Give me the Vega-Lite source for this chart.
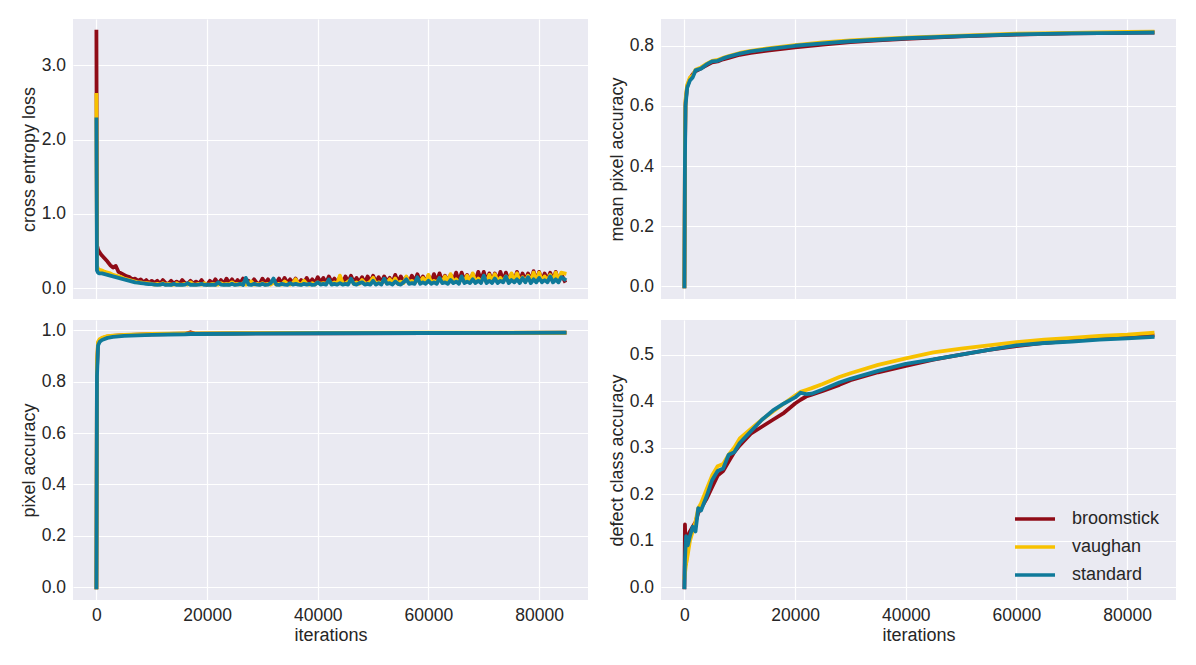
{
  "$schema": "https://vega.github.io/schema/vega-lite/v6.json",
  "background": "white",
  "padding": {"left": 20, "top": 19, "right": 5, "bottom": 5},
  "columns": 2,
  "spacing": {"row": 21, "column": 73},
  "bounds": "flush",
  "resolve": {"legend": {"color": "independent"}},
  "config": {
    "font": "Liberation Sans",
    "view": {"fill": "#EAEAF2", "stroke": null},
    "axis": {
      "grid": true, "gridColor": "white", "gridWidth": 1.2,
      "domain": false, "ticks": false, "tickSize": 0,
      "labelFontSize": 17.5, "labelColor": "#262626",
      "titleFontSize": 18, "titleColor": "#262626", "titleFontWeight": "normal"
    },
    "axisY": {"labelPadding": 7.5, "titlePadding": 3},
    "axisX": {"labelPadding": 6, "titlePadding": 3},
    "legend": {
      "orient": "bottom-right", "offset": 16, "padding": 0,
      "symbolType": "M-2,0H2", "symbolSize": 400, "symbolStrokeWidth": 3.5,
      "labelFontSize": 18, "labelColor": "#262626", "labelOffset": 25, "rowPadding": 7
    }
  },
  "datasets": {
    "loss": [
      {"i": 0, "broomstick": 3.45, "vaughan": 2.6, "standard": 2.27},
      {"i": 100, "broomstick": 0.58, "vaughan": 0.3, "standard": 0.24},
      {"i": 300, "broomstick": 0.52, "vaughan": 0.26, "standard": 0.21},
      {"i": 600, "broomstick": 0.48, "vaughan": 0.25, "standard": 0.2},
      {"i": 1000, "broomstick": 0.44, "vaughan": 0.24, "standard": 0.2},
      {"i": 1500, "broomstick": 0.4, "vaughan": 0.22, "standard": 0.19},
      {"i": 2000, "broomstick": 0.36, "vaughan": 0.21, "standard": 0.18},
      {"i": 2500, "broomstick": 0.31, "vaughan": 0.2, "standard": 0.17},
      {"i": 3000, "broomstick": 0.28, "vaughan": 0.18, "standard": 0.16},
      {"i": 3500, "broomstick": 0.3, "vaughan": 0.17, "standard": 0.15},
      {"i": 4000, "broomstick": 0.22, "vaughan": 0.16, "standard": 0.14},
      {"i": 4500, "broomstick": 0.2, "vaughan": 0.15, "standard": 0.13},
      {"i": 5000, "broomstick": 0.18, "vaughan": 0.13, "standard": 0.12},
      {"i": 5500, "broomstick": 0.16, "vaughan": 0.12, "standard": 0.11},
      {"i": 6000, "broomstick": 0.15, "vaughan": 0.11, "standard": 0.1},
      {"i": 6500, "broomstick": 0.12, "vaughan": 0.1, "standard": 0.09},
      {"i": 7000, "broomstick": 0.13, "vaughan": 0.09, "standard": 0.08},
      {"i": 7500, "broomstick": 0.1, "vaughan": 0.08, "standard": 0.075},
      {"i": 8000, "broomstick": 0.12, "vaughan": 0.08, "standard": 0.07},
      {"i": 8500, "broomstick": 0.08, "vaughan": 0.07, "standard": 0.065},
      {"i": 9000, "broomstick": 0.11, "vaughan": 0.07, "standard": 0.06},
      {"i": 9500, "broomstick": 0.07, "vaughan": 0.065, "standard": 0.055},
      {"i": 10000, "broomstick": 0.1, "vaughan": 0.06, "standard": 0.055},
      {"i": 10500, "broomstick": 0.07, "vaughan": 0.05, "standard": 0.05},
      {"i": 11000, "broomstick": 0.1, "vaughan": 0.06, "standard": 0.045},
      {"i": 11500, "broomstick": 0.06, "vaughan": 0.05, "standard": 0.05},
      {"i": 12000, "broomstick": 0.11, "vaughan": 0.07, "standard": 0.06},
      {"i": 12500, "broomstick": 0.07, "vaughan": 0.05, "standard": 0.045},
      {"i": 13000, "broomstick": 0.06, "vaughan": 0.06, "standard": 0.05},
      {"i": 13500, "broomstick": 0.1, "vaughan": 0.05, "standard": 0.045},
      {"i": 14000, "broomstick": 0.06, "vaughan": 0.05, "standard": 0.06},
      {"i": 14500, "broomstick": 0.09, "vaughan": 0.07, "standard": 0.045},
      {"i": 15000, "broomstick": 0.06, "vaughan": 0.05, "standard": 0.05},
      {"i": 15500, "broomstick": 0.11, "vaughan": 0.05, "standard": 0.045},
      {"i": 16000, "broomstick": 0.07, "vaughan": 0.06, "standard": 0.05},
      {"i": 16500, "broomstick": 0.06, "vaughan": 0.05, "standard": 0.07},
      {"i": 17000, "broomstick": 0.1, "vaughan": 0.08, "standard": 0.045},
      {"i": 17500, "broomstick": 0.06, "vaughan": 0.05, "standard": 0.05},
      {"i": 18000, "broomstick": 0.09, "vaughan": 0.05, "standard": 0.045},
      {"i": 18500, "broomstick": 0.06, "vaughan": 0.06, "standard": 0.05},
      {"i": 19000, "broomstick": 0.11, "vaughan": 0.05, "standard": 0.06},
      {"i": 19500, "broomstick": 0.06, "vaughan": 0.07, "standard": 0.045},
      {"i": 20000, "broomstick": 0.05, "vaughan": 0.05, "standard": 0.05},
      {"i": 20500, "broomstick": 0.1, "vaughan": 0.05, "standard": 0.045},
      {"i": 21000, "broomstick": 0.06, "vaughan": 0.06, "standard": 0.05},
      {"i": 21500, "broomstick": 0.12, "vaughan": 0.05, "standard": 0.045},
      {"i": 22000, "broomstick": 0.06, "vaughan": 0.05, "standard": 0.08},
      {"i": 22500, "broomstick": 0.11, "vaughan": 0.07, "standard": 0.05},
      {"i": 23000, "broomstick": 0.06, "vaughan": 0.05, "standard": 0.045},
      {"i": 23500, "broomstick": 0.13, "vaughan": 0.06, "standard": 0.05},
      {"i": 24000, "broomstick": 0.07, "vaughan": 0.05, "standard": 0.045},
      {"i": 24500, "broomstick": 0.12, "vaughan": 0.08, "standard": 0.06},
      {"i": 25000, "broomstick": 0.06, "vaughan": 0.05, "standard": 0.045},
      {"i": 25500, "broomstick": 0.11, "vaughan": 0.06, "standard": 0.05},
      {"i": 26000, "broomstick": 0.07, "vaughan": 0.05, "standard": 0.06},
      {"i": 26500, "broomstick": 0.13, "vaughan": 0.07, "standard": 0.045},
      {"i": 27000, "broomstick": 0.06, "vaughan": 0.05, "standard": 0.14},
      {"i": 27500, "broomstick": 0.1, "vaughan": 0.06, "standard": 0.05},
      {"i": 28000, "broomstick": 0.06, "vaughan": 0.09, "standard": 0.045},
      {"i": 28500, "broomstick": 0.12, "vaughan": 0.05, "standard": 0.06},
      {"i": 29000, "broomstick": 0.07, "vaughan": 0.06, "standard": 0.05},
      {"i": 29500, "broomstick": 0.06, "vaughan": 0.05, "standard": 0.045},
      {"i": 30000, "broomstick": 0.13, "vaughan": 0.07, "standard": 0.06},
      {"i": 30500, "broomstick": 0.07, "vaughan": 0.05, "standard": 0.045},
      {"i": 31000, "broomstick": 0.12, "vaughan": 0.06, "standard": 0.05},
      {"i": 31500, "broomstick": 0.06, "vaughan": 0.05, "standard": 0.07},
      {"i": 32000, "broomstick": 0.11, "vaughan": 0.08, "standard": 0.13},
      {"i": 32500, "broomstick": 0.07, "vaughan": 0.05, "standard": 0.05},
      {"i": 33000, "broomstick": 0.13, "vaughan": 0.06, "standard": 0.045},
      {"i": 33500, "broomstick": 0.06, "vaughan": 0.05, "standard": 0.06},
      {"i": 34000, "broomstick": 0.14, "vaughan": 0.09, "standard": 0.05},
      {"i": 34500, "broomstick": 0.07, "vaughan": 0.06, "standard": 0.045},
      {"i": 35000, "broomstick": 0.12, "vaughan": 0.05, "standard": 0.07},
      {"i": 35500, "broomstick": 0.07, "vaughan": 0.07, "standard": 0.05},
      {"i": 36000, "broomstick": 0.13, "vaughan": 0.12, "standard": 0.06},
      {"i": 36500, "broomstick": 0.06, "vaughan": 0.06, "standard": 0.05},
      {"i": 37000, "broomstick": 0.11, "vaughan": 0.05, "standard": 0.045},
      {"i": 37500, "broomstick": 0.07, "vaughan": 0.1, "standard": 0.06},
      {"i": 38000, "broomstick": 0.14, "vaughan": 0.06, "standard": 0.05},
      {"i": 38500, "broomstick": 0.07, "vaughan": 0.05, "standard": 0.06},
      {"i": 39000, "broomstick": 0.12, "vaughan": 0.07, "standard": 0.045},
      {"i": 39500, "broomstick": 0.07, "vaughan": 0.05, "standard": 0.05},
      {"i": 40000, "broomstick": 0.15, "vaughan": 0.08, "standard": 0.08},
      {"i": 40500, "broomstick": 0.08, "vaughan": 0.06, "standard": 0.05},
      {"i": 41000, "broomstick": 0.14, "vaughan": 0.07, "standard": 0.06},
      {"i": 41500, "broomstick": 0.07, "vaughan": 0.06, "standard": 0.05},
      {"i": 42000, "broomstick": 0.16, "vaughan": 0.1, "standard": 0.12},
      {"i": 42500, "broomstick": 0.08, "vaughan": 0.06, "standard": 0.05},
      {"i": 43000, "broomstick": 0.13, "vaughan": 0.08, "standard": 0.06},
      {"i": 43500, "broomstick": 0.08, "vaughan": 0.06, "standard": 0.05},
      {"i": 44000, "broomstick": 0.15, "vaughan": 0.17, "standard": 0.07},
      {"i": 44500, "broomstick": 0.07, "vaughan": 0.07, "standard": 0.05},
      {"i": 45000, "broomstick": 0.16, "vaughan": 0.06, "standard": 0.06},
      {"i": 45500, "broomstick": 0.08, "vaughan": 0.09, "standard": 0.05},
      {"i": 46000, "broomstick": 0.17, "vaughan": 0.12, "standard": 0.13},
      {"i": 46500, "broomstick": 0.08, "vaughan": 0.06, "standard": 0.06},
      {"i": 47000, "broomstick": 0.14, "vaughan": 0.08, "standard": 0.05},
      {"i": 47500, "broomstick": 0.08, "vaughan": 0.06, "standard": 0.07},
      {"i": 48000, "broomstick": 0.15, "vaughan": 0.11, "standard": 0.08},
      {"i": 48500, "broomstick": 0.07, "vaughan": 0.07, "standard": 0.05},
      {"i": 49000, "broomstick": 0.16, "vaughan": 0.06, "standard": 0.06},
      {"i": 49500, "broomstick": 0.08, "vaughan": 0.09, "standard": 0.05},
      {"i": 50000, "broomstick": 0.17, "vaughan": 0.14, "standard": 0.1},
      {"i": 50500, "broomstick": 0.08, "vaughan": 0.06, "standard": 0.05},
      {"i": 51000, "broomstick": 0.15, "vaughan": 0.08, "standard": 0.07},
      {"i": 51500, "broomstick": 0.08, "vaughan": 0.07, "standard": 0.05},
      {"i": 52000, "broomstick": 0.16, "vaughan": 0.1, "standard": 0.13},
      {"i": 52500, "broomstick": 0.09, "vaughan": 0.07, "standard": 0.06},
      {"i": 53000, "broomstick": 0.14, "vaughan": 0.12, "standard": 0.07},
      {"i": 53500, "broomstick": 0.08, "vaughan": 0.07, "standard": 0.05},
      {"i": 54000, "broomstick": 0.18, "vaughan": 0.13, "standard": 0.09},
      {"i": 54500, "broomstick": 0.08, "vaughan": 0.06, "standard": 0.06},
      {"i": 55000, "broomstick": 0.16, "vaughan": 0.09, "standard": 0.05},
      {"i": 55500, "broomstick": 0.09, "vaughan": 0.07, "standard": 0.08},
      {"i": 56000, "broomstick": 0.15, "vaughan": 0.16, "standard": 0.12},
      {"i": 56500, "broomstick": 0.08, "vaughan": 0.07, "standard": 0.06},
      {"i": 57000, "broomstick": 0.17, "vaughan": 0.1, "standard": 0.07},
      {"i": 57500, "broomstick": 0.09, "vaughan": 0.07, "standard": 0.06},
      {"i": 58000, "broomstick": 0.19, "vaughan": 0.12, "standard": 0.15},
      {"i": 58500, "broomstick": 0.09, "vaughan": 0.08, "standard": 0.06},
      {"i": 59000, "broomstick": 0.16, "vaughan": 0.14, "standard": 0.08},
      {"i": 59500, "broomstick": 0.09, "vaughan": 0.07, "standard": 0.06},
      {"i": 60000, "broomstick": 0.17, "vaughan": 0.18, "standard": 0.1},
      {"i": 60500, "broomstick": 0.08, "vaughan": 0.07, "standard": 0.06},
      {"i": 61000, "broomstick": 0.19, "vaughan": 0.1, "standard": 0.08},
      {"i": 61500, "broomstick": 0.09, "vaughan": 0.08, "standard": 0.06},
      {"i": 62000, "broomstick": 0.2, "vaughan": 0.13, "standard": 0.14},
      {"i": 62500, "broomstick": 0.09, "vaughan": 0.08, "standard": 0.07},
      {"i": 63000, "broomstick": 0.17, "vaughan": 0.16, "standard": 0.08},
      {"i": 63500, "broomstick": 0.09, "vaughan": 0.08, "standard": 0.06},
      {"i": 64000, "broomstick": 0.18, "vaughan": 0.19, "standard": 0.11},
      {"i": 64500, "broomstick": 0.1, "vaughan": 0.08, "standard": 0.07},
      {"i": 65000, "broomstick": 0.21, "vaughan": 0.12, "standard": 0.09},
      {"i": 65500, "broomstick": 0.09, "vaughan": 0.08, "standard": 0.06},
      {"i": 66000, "broomstick": 0.21, "vaughan": 0.14, "standard": 0.16},
      {"i": 66500, "broomstick": 0.1, "vaughan": 0.09, "standard": 0.07},
      {"i": 67000, "broomstick": 0.18, "vaughan": 0.17, "standard": 0.09},
      {"i": 67500, "broomstick": 0.09, "vaughan": 0.08, "standard": 0.07},
      {"i": 68000, "broomstick": 0.19, "vaughan": 0.2, "standard": 0.12},
      {"i": 68500, "broomstick": 0.1, "vaughan": 0.08, "standard": 0.07},
      {"i": 69000, "broomstick": 0.22, "vaughan": 0.13, "standard": 0.1},
      {"i": 69500, "broomstick": 0.1, "vaughan": 0.09, "standard": 0.07},
      {"i": 70000, "broomstick": 0.22, "vaughan": 0.15, "standard": 0.17},
      {"i": 70500, "broomstick": 0.09, "vaughan": 0.08, "standard": 0.07},
      {"i": 71000, "broomstick": 0.2, "vaughan": 0.18, "standard": 0.1},
      {"i": 71500, "broomstick": 0.1, "vaughan": 0.09, "standard": 0.07},
      {"i": 72000, "broomstick": 0.2, "vaughan": 0.19, "standard": 0.13},
      {"i": 72500, "broomstick": 0.1, "vaughan": 0.09, "standard": 0.07},
      {"i": 73000, "broomstick": 0.22, "vaughan": 0.14, "standard": 0.1},
      {"i": 73500, "broomstick": 0.1, "vaughan": 0.09, "standard": 0.08},
      {"i": 74000, "broomstick": 0.21, "vaughan": 0.16, "standard": 0.16},
      {"i": 74500, "broomstick": 0.1, "vaughan": 0.09, "standard": 0.07},
      {"i": 75000, "broomstick": 0.19, "vaughan": 0.2, "standard": 0.11},
      {"i": 75500, "broomstick": 0.1, "vaughan": 0.09, "standard": 0.08},
      {"i": 76000, "broomstick": 0.22, "vaughan": 0.2, "standard": 0.12},
      {"i": 76500, "broomstick": 0.1, "vaughan": 0.09, "standard": 0.07},
      {"i": 77000, "broomstick": 0.2, "vaughan": 0.15, "standard": 0.14},
      {"i": 77500, "broomstick": 0.11, "vaughan": 0.09, "standard": 0.08},
      {"i": 78000, "broomstick": 0.2, "vaughan": 0.17, "standard": 0.15},
      {"i": 78500, "broomstick": 0.1, "vaughan": 0.09, "standard": 0.07},
      {"i": 79000, "broomstick": 0.23, "vaughan": 0.21, "standard": 0.12},
      {"i": 79500, "broomstick": 0.1, "vaughan": 0.09, "standard": 0.08},
      {"i": 80000, "broomstick": 0.22, "vaughan": 0.21, "standard": 0.14},
      {"i": 80500, "broomstick": 0.1, "vaughan": 0.09, "standard": 0.08},
      {"i": 81000, "broomstick": 0.2, "vaughan": 0.16, "standard": 0.11},
      {"i": 81500, "broomstick": 0.11, "vaughan": 0.1, "standard": 0.08},
      {"i": 82000, "broomstick": 0.21, "vaughan": 0.18, "standard": 0.16},
      {"i": 82500, "broomstick": 0.1, "vaughan": 0.09, "standard": 0.08},
      {"i": 83000, "broomstick": 0.22, "vaughan": 0.21, "standard": 0.12},
      {"i": 83500, "broomstick": 0.1, "vaughan": 0.09, "standard": 0.08},
      {"i": 84000, "broomstick": 0.19, "vaughan": 0.21, "standard": 0.15},
      {"i": 84600, "broomstick": 0.1, "vaughan": 0.2, "standard": 0.12}
    ],
    "mpa": [
      {"i": 0, "broomstick": 0, "vaughan": 0, "standard": 0},
      {"i": 100, "broomstick": 0.45, "vaughan": 0.47, "standard": 0.42},
      {"i": 200, "broomstick": 0.61, "vaughan": 0.62, "standard": 0.6},
      {"i": 500, "broomstick": 0.665, "vaughan": 0.67, "standard": 0.66},
      {"i": 1000, "broomstick": 0.69, "vaughan": 0.695, "standard": 0.685},
      {"i": 1500, "broomstick": 0.705, "vaughan": 0.7, "standard": 0.695},
      {"i": 2000, "broomstick": 0.715, "vaughan": 0.72, "standard": 0.718},
      {"i": 3000, "broomstick": 0.725, "vaughan": 0.728, "standard": 0.724},
      {"i": 4000, "broomstick": 0.735, "vaughan": 0.74, "standard": 0.738},
      {"i": 5000, "broomstick": 0.745, "vaughan": 0.75, "standard": 0.748},
      {"i": 6000, "broomstick": 0.748, "vaughan": 0.753, "standard": 0.75},
      {"i": 7000, "broomstick": 0.755, "vaughan": 0.76, "standard": 0.758},
      {"i": 8000, "broomstick": 0.76, "vaughan": 0.766, "standard": 0.764},
      {"i": 10000, "broomstick": 0.77, "vaughan": 0.776, "standard": 0.774},
      {"i": 12000, "broomstick": 0.776, "vaughan": 0.783, "standard": 0.781},
      {"i": 15000, "broomstick": 0.784, "vaughan": 0.791, "standard": 0.789},
      {"i": 20000, "broomstick": 0.795, "vaughan": 0.802, "standard": 0.8},
      {"i": 25000, "broomstick": 0.804, "vaughan": 0.811, "standard": 0.808},
      {"i": 30000, "broomstick": 0.812, "vaughan": 0.818, "standard": 0.815},
      {"i": 35000, "broomstick": 0.818, "vaughan": 0.823, "standard": 0.82},
      {"i": 40000, "broomstick": 0.823, "vaughan": 0.827, "standard": 0.825},
      {"i": 50000, "broomstick": 0.831, "vaughan": 0.834, "standard": 0.832},
      {"i": 60000, "broomstick": 0.837, "vaughan": 0.84, "standard": 0.838},
      {"i": 70000, "broomstick": 0.841, "vaughan": 0.843, "standard": 0.841},
      {"i": 80000, "broomstick": 0.843, "vaughan": 0.846, "standard": 0.843},
      {"i": 84600, "broomstick": 0.844, "vaughan": 0.847, "standard": 0.844}
    ],
    "pa": [
      {"i": 0, "broomstick": 0, "vaughan": 0, "standard": 0},
      {"i": 100, "broomstick": 0.85, "vaughan": 0.88, "standard": 0.82},
      {"i": 300, "broomstick": 0.95, "vaughan": 0.955, "standard": 0.94},
      {"i": 600, "broomstick": 0.96, "vaughan": 0.965, "standard": 0.955},
      {"i": 1000, "broomstick": 0.968, "vaughan": 0.97, "standard": 0.962},
      {"i": 2000, "broomstick": 0.975, "vaughan": 0.977, "standard": 0.97},
      {"i": 3000, "broomstick": 0.978, "vaughan": 0.979, "standard": 0.974},
      {"i": 5000, "broomstick": 0.981, "vaughan": 0.982, "standard": 0.978},
      {"i": 10000, "broomstick": 0.984, "vaughan": 0.985, "standard": 0.982},
      {"i": 16000, "broomstick": 0.986, "vaughan": 0.987, "standard": 0.984},
      {"i": 17000, "broomstick": 0.992, "vaughan": 0.987, "standard": 0.985},
      {"i": 18000, "broomstick": 0.986, "vaughan": 0.987, "standard": 0.985},
      {"i": 25000, "broomstick": 0.987, "vaughan": 0.988, "standard": 0.986},
      {"i": 40000, "broomstick": 0.988, "vaughan": 0.989, "standard": 0.988},
      {"i": 60000, "broomstick": 0.989, "vaughan": 0.99, "standard": 0.989},
      {"i": 84600, "broomstick": 0.99, "vaughan": 0.99, "standard": 0.99}
    ],
    "dca": [
      {"i": 0, "broomstick": 0, "vaughan": 0.02, "standard": 0},
      {"i": 100, "broomstick": 0.135, "vaughan": 0.03, "standard": 0.06},
      {"i": 300, "broomstick": 0.05, "vaughan": 0.05, "standard": 0.11},
      {"i": 600, "broomstick": 0.11, "vaughan": 0.07, "standard": 0.09},
      {"i": 1000, "broomstick": 0.12, "vaughan": 0.1, "standard": 0.11},
      {"i": 1500, "broomstick": 0.13, "vaughan": 0.12, "standard": 0.13},
      {"i": 2000, "broomstick": 0.14, "vaughan": 0.14, "standard": 0.12},
      {"i": 2500, "broomstick": 0.16, "vaughan": 0.17, "standard": 0.17},
      {"i": 3000, "broomstick": 0.17, "vaughan": 0.18, "standard": 0.165},
      {"i": 4000, "broomstick": 0.19, "vaughan": 0.21, "standard": 0.195},
      {"i": 5000, "broomstick": 0.215, "vaughan": 0.24, "standard": 0.23},
      {"i": 6000, "broomstick": 0.24, "vaughan": 0.26, "standard": 0.25},
      {"i": 7000, "broomstick": 0.25, "vaughan": 0.265, "standard": 0.255},
      {"i": 8000, "broomstick": 0.27, "vaughan": 0.285, "standard": 0.285},
      {"i": 9000, "broomstick": 0.29, "vaughan": 0.3, "standard": 0.29},
      {"i": 10000, "broomstick": 0.305, "vaughan": 0.32, "standard": 0.31},
      {"i": 12000, "broomstick": 0.33, "vaughan": 0.34, "standard": 0.335},
      {"i": 14000, "broomstick": 0.345, "vaughan": 0.36, "standard": 0.36},
      {"i": 16000, "broomstick": 0.36, "vaughan": 0.378, "standard": 0.38},
      {"i": 18000, "broomstick": 0.375, "vaughan": 0.395, "standard": 0.395},
      {"i": 20000, "broomstick": 0.395, "vaughan": 0.412, "standard": 0.408},
      {"i": 21000, "broomstick": 0.403, "vaughan": 0.42, "standard": 0.418},
      {"i": 22000, "broomstick": 0.41, "vaughan": 0.424, "standard": 0.415},
      {"i": 23000, "broomstick": 0.414, "vaughan": 0.428, "standard": 0.416},
      {"i": 25000, "broomstick": 0.422, "vaughan": 0.437, "standard": 0.425},
      {"i": 28000, "broomstick": 0.435, "vaughan": 0.452, "standard": 0.44},
      {"i": 30000, "broomstick": 0.445, "vaughan": 0.46, "standard": 0.448},
      {"i": 35000, "broomstick": 0.462, "vaughan": 0.478, "standard": 0.465},
      {"i": 40000, "broomstick": 0.476, "vaughan": 0.492, "standard": 0.48},
      {"i": 45000, "broomstick": 0.489, "vaughan": 0.505, "standard": 0.49},
      {"i": 50000, "broomstick": 0.5, "vaughan": 0.513, "standard": 0.5},
      {"i": 55000, "broomstick": 0.51, "vaughan": 0.52, "standard": 0.51},
      {"i": 60000, "broomstick": 0.518, "vaughan": 0.527, "standard": 0.52},
      {"i": 65000, "broomstick": 0.525, "vaughan": 0.532, "standard": 0.525},
      {"i": 70000, "broomstick": 0.53, "vaughan": 0.536, "standard": 0.528},
      {"i": 75000, "broomstick": 0.535, "vaughan": 0.54, "standard": 0.532},
      {"i": 80000, "broomstick": 0.538, "vaughan": 0.543, "standard": 0.535},
      {"i": 84600, "broomstick": 0.541, "vaughan": 0.547, "standard": 0.538}
    ]
  },
  "concat": [
    {
      "width": 515, "height": 280,
      "data": {"name": "loss"},
      "transform": [{"fold": ["broomstick", "vaughan", "standard"], "as": ["run", "val"]}],
      "mark": {"type": "line", "strokeWidth": 3.8, "strokeCap": "square", "strokeJoin": "round"},
      "encoding": {
        "x": {"field": "i", "type": "quantitative", "scale": {"domain": [-4230, 88830], "nice": false, "zero": false},
              "axis": {"values": [0, 20000, 40000, 60000, 80000], "labels": false, "title": null}},
        "y": {"field": "val", "type": "quantitative", "scale": {"domain": [-0.144, 3.621], "nice": false, "zero": false},
              "axis": {"values": [0, 1, 2, 3], "format": ".1f", "title": "cross entropy loss"}},
        "color": {"field": "run", "type": "nominal", "legend": null,
                  "scale": {"domain": ["broomstick", "vaughan", "standard"], "range": ["#8f0b17", "#f7c100", "#0f7a9a"]}}
      }
    },
    {
      "width": 515, "height": 280,
      "data": {"name": "mpa"},
      "transform": [{"fold": ["broomstick", "vaughan", "standard"], "as": ["run", "val"]}],
      "mark": {"type": "line", "strokeWidth": 3.8, "strokeCap": "square", "strokeJoin": "round"},
      "encoding": {
        "x": {"field": "i", "type": "quantitative", "scale": {"domain": [-4230, 88830], "nice": false, "zero": false},
              "axis": {"values": [0, 20000, 40000, 60000, 80000], "labels": false, "title": null}},
        "y": {"field": "val", "type": "quantitative", "scale": {"domain": [-0.042, 0.889], "nice": false, "zero": false},
              "axis": {"values": [0, 0.2, 0.4, 0.6, 0.8], "format": ".1f", "title": "mean pixel accuracy"}},
        "color": {"field": "run", "type": "nominal", "legend": null,
                  "scale": {"domain": ["broomstick", "vaughan", "standard"], "range": ["#8f0b17", "#f7c100", "#0f7a9a"]}}
      }
    },
    {
      "width": 515, "height": 280,
      "data": {"name": "pa"},
      "transform": [{"fold": ["broomstick", "vaughan", "standard"], "as": ["run", "val"]}],
      "mark": {"type": "line", "strokeWidth": 3.8, "strokeCap": "square", "strokeJoin": "round"},
      "encoding": {
        "x": {"field": "i", "type": "quantitative", "scale": {"domain": [-4230, 88830], "nice": false, "zero": false},
              "axis": {"values": [0, 20000, 40000, 60000, 80000], "format": "d", "title": "iterations"}},
        "y": {"field": "val", "type": "quantitative", "scale": {"domain": [-0.0495, 1.0395], "nice": false, "zero": false},
              "axis": {"values": [0, 0.2, 0.4, 0.6, 0.8, 1.0], "format": ".1f", "title": "pixel accuracy"}},
        "color": {"field": "run", "type": "nominal", "legend": null,
                  "scale": {"domain": ["broomstick", "vaughan", "standard"], "range": ["#8f0b17", "#f7c100", "#0f7a9a"]}}
      }
    },
    {
      "width": 515, "height": 280,
      "data": {"name": "dca"},
      "transform": [{"fold": ["broomstick", "vaughan", "standard"], "as": ["run", "val"]}],
      "mark": {"type": "line", "strokeWidth": 3.8, "strokeCap": "square", "strokeJoin": "round"},
      "encoding": {
        "x": {"field": "i", "type": "quantitative", "scale": {"domain": [-4230, 88830], "nice": false, "zero": false},
              "axis": {"values": [0, 20000, 40000, 60000, 80000], "format": "d", "title": "iterations"}},
        "y": {"field": "val", "type": "quantitative", "scale": {"domain": [-0.0274, 0.5744], "nice": false, "zero": false},
              "axis": {"values": [0, 0.1, 0.2, 0.3, 0.4, 0.5], "format": ".1f", "title": "defect class accuracy"}},
        "color": {"field": "run", "type": "nominal", "legend": {"title": null},
                  "scale": {"domain": ["broomstick", "vaughan", "standard"], "range": ["#8f0b17", "#f7c100", "#0f7a9a"]}}
      }
    }
  ]
}
